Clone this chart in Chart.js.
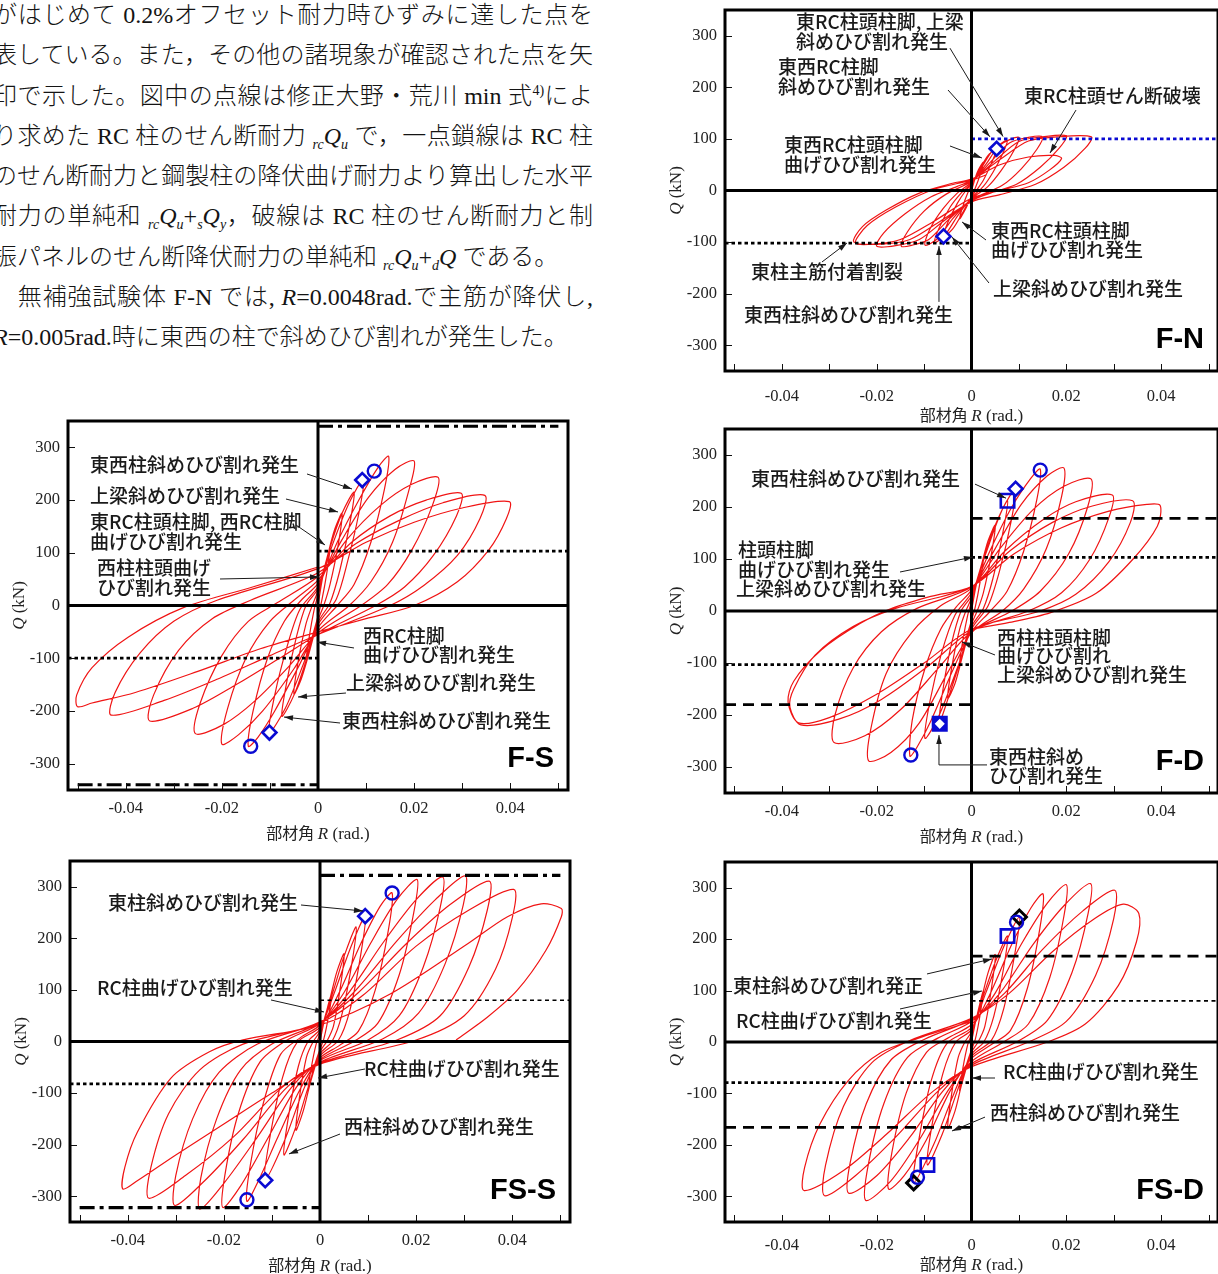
<!DOCTYPE html>
<html lang="ja">
<head>
<meta charset="utf-8">
<title>荷重変形関係</title>
<script src="https://cdn.jsdelivr.net/npm/chart.js@4.4.1/dist/chart.umd.min.js"></script>
<style>
html,body{margin:0;padding:0;background:#fff;width:1218px;height:1274px;overflow:hidden;position:relative}
.para{position:absolute;left:-7px;top:-5px;width:600px;font-family:"Liberation Serif","Noto Sans CJK JP",serif;font-size:24px;font-weight:300;line-height:40.3px;color:#141414}
.para div{white-space:nowrap;height:40.3px;text-align:justify;text-align-last:justify}
.para div.last{text-align-last:left}
.para i{font-style:italic}
.pre,.sb{font-size:14px;font-style:italic;position:relative;top:5px;line-height:0}
.sp{font-size:14px;position:relative;top:-9px;line-height:0}
canvas{position:absolute}
</style>
</head>
<body>
<div class="para">
<div>がはじめて 0.2%オフセット耐力時ひずみに達した点を</div>
<div>表している。また，その他の諸現象が確認された点を矢</div>
<div>印で示した。図中の点線は修正大野・荒川 min 式<span class="sp">4)</span>によ</div>
<div>り求めた RC 柱のせん断耐力 <span class="pre">rc</span><i>Q</i><span class="sb">u</span> で，一点鎖線は RC 柱</div>
<div>のせん断耐力と鋼製柱の降伏曲げ耐力より算出した水平</div>
<div>耐力の単純和 <span class="pre">rc</span><i>Q</i><span class="sb">u</span>+<span class="pre">s</span><i>Q</i><span class="sb">y</span>，破線は RC 柱のせん断耐力と制</div>
<div class="last">振パネルのせん断降伏耐力の単純和 <span class="pre">rc</span><i>Q</i><span class="sb">u</span>+<span class="pre">d</span><i>Q</i> である。</div>
<div>　無補強試験体 F-N では, <i>R</i>=0.0048rad.で主筋が降伏し,</div>
<div class="last"><i>R</i>=0.005rad.時に東西の柱で斜めひび割れが発生した。</div>
</div>
<script>
// ---------- axes ----------
const rTicks = [-0.05, -0.04, -0.03, -0.02, -0.01, 0, 0.01, 0.02, 0.03, 0.04, 0.05];
const rTickLabels = ['', '-0.04', '', '-0.02', '', '0', '', '0.02', '', '0.04', ''];
const qTicks = [-300, -200, -100, 0, 100, 200, 300];
const qTickLabels = ['-300', '-200', '-100', '0', '100', '200', '300'];

// ---------- F-N : story shear Q (kN) vs drift R (rad.) ----------
const fnLoop = [
 [0,0],
 [0.0012,35],[0.0025,55],[0.0018,30],[0.0008,5],[0,-10],[-0.0012,-35],[-0.0025,-55],[-0.0018,-30],[-0.0008,-5],[0,10],
 [0.002,45],[0.0035,68],[0.0053,81],[0.0043,55],[0.0025,20],[0.001,0],[0,-12],[-0.002,-45],[-0.004,-75],[-0.0059,-89],[-0.005,-62],[-0.003,-25],[-0.0012,0],[0,12],
 [0.002,42],[0.0045,78],[0.0075,97],[0.0065,70],[0.0045,35],[0.0025,8],[0,-14],[-0.003,-50],[-0.0055,-85],[-0.0078,-101],[-0.0068,-72],[-0.0045,-32],[-0.0022,-5],[0,14],
 [0.003,50],[0.006,88],[0.01,103],[0.0088,75],[0.0062,38],[0.0035,8],[0,-16],[-0.004,-55],[-0.007,-92],[-0.0098,-106],[-0.0088,-75],[-0.006,-35],[-0.003,-5],[0,16],
 [0.004,55],[0.008,92],[0.012,103],[0.015,104],[0.0138,80],[0.0105,42],[0.0065,10],[0,-18],[-0.005,-58],[-0.009,-95],[-0.0125,-106],[-0.0148,-108],[-0.0135,-80],[-0.01,-40],[-0.0055,-8],[0,18],
 [0.005,58],[0.01,95],[0.015,104],[0.02,106],[0.0185,82],[0.0145,45],[0.0095,12],[0.004,-5],[0,-20],[-0.006,-60],[-0.011,-95],[-0.016,-107],[-0.02,-108],[-0.0185,-82],[-0.014,-45],[-0.0085,-12],[-0.003,8],[0,20],
 [0.006,60],[0.012,96],[0.018,104],[0.0253,104],[0.024,82],[0.0195,45],[0.0135,12],[0.006,-8],[0,-22],[-0.007,-62],[-0.013,-95],[-0.019,-104],[-0.0248,-100],[-0.023,-70],[-0.018,-38],[-0.011,-5],[-0.004,14],[0,22],
 [0.006,50],[0.012,65],[0.0175,68],[0.019,62],[0.0165,40],[0.012,15],[0.006,0],[0,-15],[-0.008,-60],[-0.015,-95],[-0.0205,-104],[-0.0245,-102],[-0.022,-68],[-0.016,-32],[-0.008,2],[0,20],[0.003,30]
];
const fnDiamonds = [[0.0053,81],[-0.0059,-89]];
const fnQu = [100, -102];

// ---------- F-S ----------
const fsLoop = [
 [0,0],
 [0.001,55],[0.0025,110],[0.0018,60],[0.0008,10],[0,-20],[-0.0012,-60],[-0.0025,-105],[-0.0018,-58],[-0.0008,-8],[0,20],
 [0.002,95],[0.0035,145],[0.005,175],[0.0042,115],[0.0025,40],[0.0012,0],[0,-28],[-0.002,-95],[-0.0035,-140],[-0.005,-168],[-0.0042,-110],[-0.0025,-35],[-0.0012,0],[0,28],
 [0.0025,110],[0.005,175],[0.0075,215],[0.0065,150],[0.0045,65],[0.0025,5],[0,-32],[-0.0025,-105],[-0.005,-170],[-0.0075,-210],[-0.0065,-145],[-0.0045,-60],[-0.0025,0],[0,32],
 [0.003,115],[0.0065,195],[0.0095,240],[0.0085,175],[0.0062,85],[0.0038,12],[0,-36],[-0.003,-110],[-0.0068,-195],[-0.0102,-242],[-0.009,-170],[-0.0065,-80],[-0.0038,-8],[0,36],
 [0.004,120],[0.0085,200],[0.0125,262],[0.0147,283],[0.0138,220],[0.011,120],[0.0075,40],[0.004,0],[0,-42],[-0.004,-115],[-0.009,-200],[-0.0125,-250],[-0.0145,-267],[-0.0135,-200],[-0.0105,-100],[-0.007,-30],[-0.0035,10],[0,42],
 [0.005,125],[0.0105,205],[0.016,258],[0.02,274],[0.0188,215],[0.0155,120],[0.011,45],[0.0065,0],[0,-48],[-0.005,-120],[-0.0115,-200],[-0.0165,-245],[-0.02,-263],[-0.0188,-195],[-0.015,-100],[-0.01,-30],[-0.005,10],[0,48],
 [0.006,125],[0.013,190],[0.0195,230],[0.025,243],[0.0238,190],[0.0195,105],[0.0145,40],[0.009,0],[0,-52],[-0.006,-115],[-0.013,-180],[-0.0195,-225],[-0.0255,-243],[-0.0245,-185],[-0.02,-95],[-0.0145,-30],[-0.0085,5],[0,55],
 [0.007,120],[0.015,170],[0.0225,200],[0.0298,213],[0.0288,170],[0.024,95],[0.018,35],[0.012,0],[0,-55],[-0.008,-100],[-0.017,-150],[-0.026,-195],[-0.035,-219],[-0.0342,-170],[-0.029,-85],[-0.022,-25],[-0.014,10],[0,62],
 [0.008,118],[0.017,162],[0.026,195],[0.0347,209],[0.0337,165],[0.029,95],[0.022,38],[0.015,0],[0,-55],[-0.01,-95],[-0.021,-140],[-0.032,-180],[-0.043,-208],[-0.0422,-165],[-0.037,-90],[-0.03,-30],[-0.021,10],[0,70],
 [0.01,120],[0.02,158],[0.03,185],[0.0398,197],[0.0392,165],[0.0355,105],[0.029,45],[0.02,0],[0.01,-25],[0,-50],[-0.012,-82],[-0.025,-125],[-0.038,-165],[-0.047,-185],[-0.05,-192],[-0.0502,-170],[-0.047,-118],[-0.0395,-60],[-0.028,-4],[-0.0136,35],[0,73]
];
const fsDiamonds = [[0.0092,238],[-0.0101,-241]];
const fsCircles = [[0.0117,255],[-0.014,-267]];
const fsQu = [103, -100];
const fsQuSy = [340, -340];

// ---------- F-D ----------
const fdLoop = [
 [0,0],
 [0.001,50],[0.0025,100],[0.0018,55],[0.0008,8],[0,-18],[-0.0012,-55],[-0.0025,-100],[-0.0018,-55],[-0.0008,-8],[0,18],
 [0.002,85],[0.0035,135],[0.005,165],[0.0042,110],[0.0025,35],[0.0012,0],[0,-25],[-0.002,-90],[-0.0035,-140],[-0.005,-168],[-0.0042,-110],[-0.0025,-35],[-0.0012,0],[0,25],
 [0.0025,100],[0.005,165],[0.0076,212],[0.0066,150],[0.0045,62],[0.0025,5],[0,-30],[-0.0025,-100],[-0.005,-170],[-0.0068,-215],[-0.006,-150],[-0.0042,-62],[-0.0022,0],[0,30],
 [0.003,110],[0.0065,195],[0.0093,235],[0.0083,170],[0.006,80],[0.0035,10],[0,-35],[-0.003,-110],[-0.0068,-200],[-0.0098,-245],[-0.0088,-175],[-0.0063,-80],[-0.0035,-8],[0,35],
 [0.004,118],[0.0085,200],[0.0125,255],[0.0145,273],[0.0138,215],[0.011,115],[0.0075,38],[0.004,0],[0,-40],[-0.004,-115],[-0.0085,-210],[-0.0115,-262],[-0.013,-279],[-0.0125,-210],[-0.0098,-110],[-0.0065,-35],[-0.0032,8],[0,40],
 [0.005,120],[0.0105,205],[0.016,260],[0.0195,275],[0.019,220],[0.0158,120],[0.011,42],[0.0065,0],[0,-42],[-0.005,-118],[-0.011,-215],[-0.017,-272],[-0.0217,-288],[-0.0212,-225],[-0.018,-120],[-0.0125,-40],[-0.0065,10],[0,44],
 [0.006,120],[0.013,195],[0.0195,240],[0.0252,254],[0.0245,200],[0.0205,110],[0.0145,38],[0.0085,0],[0,-40],[-0.007,-110],[-0.015,-190],[-0.0225,-240],[-0.029,-253],[-0.0288,-200],[-0.025,-110],[-0.019,-40],[-0.0115,5],[0,46],
 [0.007,115],[0.015,175],[0.022,210],[0.0297,223],[0.029,180],[0.025,100],[0.019,35],[0.012,0],[0,-38],[-0.009,-105],[-0.019,-170],[-0.028,-208],[-0.036,-219],[-0.0383,-185],[-0.0375,-150],[-0.033,-85],[-0.025,-30],[-0.016,5],[0,47],
 [0.008,115],[0.017,170],[0.0255,202],[0.034,212],[0.0335,170],[0.029,95],[0.022,32],[0.0145,0],[0,-35],[-0.01,-100],[-0.02,-160],[-0.03,-205],[-0.0365,-215],[-0.0387,-175],[-0.0375,-135],[-0.0317,-75],[-0.0235,-24],[-0.0168,5],[-0.0086,28],[0,47],
 [0.009,110],[0.019,160],[0.029,192],[0.037,205],[0.0398,203],[0.0392,163],[0.034,99],[0.0263,34],[0.0167,-3],[0.008,-22],[0,-35]
];
const fdCircles = [[0.0145,271],[-0.0128,-277]];
const fdDiamonds = [[0.0093,235]];
const fdSquares = [[0.0076,212]];
const fdFilledSquares = [[-0.0067,-217]];
const fdQu = [103, -103];
const fdQuD = [178, -180];

// ---------- FS-S ----------
const fssLoop = [
 [0,0],
 [0.001,45],[0.0025,95],[0.0018,50],[0.0008,5],[0,-15],[-0.0012,-48],[-0.0025,-95],[-0.0018,-50],[-0.0008,-5],[0,15],
 [0.002,80],[0.0035,135],[0.005,170],[0.0043,110],[0.0028,30],[0.0014,0],[0,-20],[-0.002,-80],[-0.0035,-135],[-0.005,-172],[-0.0043,-110],[-0.0028,-30],[-0.0014,0],[0,20],
 [0.0025,90],[0.005,165],[0.0075,222],[0.0066,150],[0.0045,50],[0.0025,0],[0,-24],[-0.0025,-90],[-0.005,-165],[-0.0075,-220],[-0.0066,-148],[-0.0045,-48],[-0.0025,0],[0,24],
 [0.003,95],[0.0065,185],[0.0094,243],[0.0085,170],[0.0062,60],[0.0038,2],[0,-28],[-0.0035,-95],[-0.0075,-195],[-0.0115,-269],[-0.0105,-190],[-0.0078,-70],[-0.0048,-2],[0,28],
 [0.004,95],[0.0085,190],[0.0125,262],[0.015,288],[0.0142,215],[0.0115,100],[0.008,20],[0.004,-8],[0,-32],[-0.004,-90],[-0.009,-190],[-0.0128,-270],[-0.0152,-310],[-0.0145,-240],[-0.0118,-120],[-0.0082,-25],[-0.004,8],[0,32],
 [0.005,95],[0.0105,190],[0.016,275],[0.0202,314],[0.0195,250],[0.0165,130],[0.012,35],[0.007,0],[0,-35],[-0.005,-90],[-0.011,-190],[-0.0165,-280],[-0.0202,-322],[-0.0198,-260],[-0.017,-140],[-0.0125,-40],[-0.007,2],[0,35],
 [0.006,95],[0.013,190],[0.02,275],[0.0255,319],[0.025,260],[0.0215,145],[0.0165,50],[0.01,3],[0,-37],[-0.006,-90],[-0.013,-185],[-0.02,-275],[-0.025,-325],[-0.0248,-265],[-0.0215,-150],[-0.0165,-55],[-0.01,-5],[0,37],
 [0.007,95],[0.016,195],[0.024,275],[0.0302,321],[0.0298,265],[0.026,150],[0.0205,55],[0.013,5],[0,-40],[-0.007,-90],[-0.016,-190],[-0.024,-270],[-0.0302,-318],[-0.03,-260],[-0.0265,-150],[-0.021,-60],[-0.013,-5],[0,38],
 [0.008,95],[0.018,190],[0.027,265],[0.0352,311],[0.0348,255],[0.031,145],[0.025,50],[0.016,3],[0,-42],[-0.008,-90],[-0.018,-185],[-0.028,-260],[-0.0356,-304],[-0.0352,-245],[-0.0315,-140],[-0.025,-55],[-0.016,-5],[0,36],
 [0.009,90],[0.02,185],[0.031,255],[0.0403,295],[0.04,240],[0.0365,140],[0.03,50],[0.02,3],[0,-44],[-0.01,-100],[-0.02,-160],[-0.03,-220],[-0.038,-270],[-0.041,-286],[-0.0406,-244],[-0.038,-176],[-0.031,-71],[-0.023,-20],[-0.016,3],[0,32],
 [0.0146,92],[0.0308,190],[0.039,242],[0.046,267],[0.0502,258],[0.0502,242],[0.047,177],[0.041,99],[0.0348,47],[0.0283,3]
];
const fssDiamonds = [[0.0094,243],[-0.0114,-269]];
const fssCircles = [[0.015,288],[-0.0152,-307]];
const fssQu = [80, -82];
const fssQuSy = [322, -322];

// ---------- FS-D ----------
const fsdLoop = [
 [0,0],
 [0.001,45],[0.0025,100],[0.0018,52],[0.0008,5],[0,-15],[-0.0012,-48],[-0.0025,-95],[-0.0018,-50],[-0.0008,-5],[0,15],
 [0.002,80],[0.0035,135],[0.005,170],[0.0043,110],[0.0028,30],[0.0014,0],[0,-20],[-0.002,-80],[-0.0035,-135],[-0.005,-168],[-0.0043,-108],[-0.0028,-30],[-0.0014,0],[0,20],
 [0.0025,90],[0.0052,160],[0.0076,206],[0.0067,140],[0.0047,50],[0.0026,0],[0,-24],[-0.003,-95],[-0.0062,-180],[-0.0093,-239],[-0.0084,-165],[-0.006,-60],[-0.0033,0],[0,24],
 [0.003,95],[0.0068,185],[0.0101,243],[0.0092,175],[0.0068,65],[0.0042,3],[0,-28],[-0.0037,-100],[-0.008,-200],[-0.0122,-274],[-0.0112,-195],[-0.0085,-75],[-0.0052,-3],[0,28],
 [0.004,95],[0.0085,190],[0.0125,260],[0.0151,288],[0.0144,220],[0.0118,105],[0.0082,22],[0.0042,-5],[0,-32],[-0.0045,-95],[-0.0095,-190],[-0.0142,-260],[-0.0175,-286],[-0.0168,-215],[-0.0138,-100],[-0.0095,-20],[-0.0045,10],[0,34],
 [0.005,95],[0.0105,190],[0.016,270],[0.02,306],[0.0195,245],[0.0165,125],[0.012,35],[0.0068,0],[0,-38],[-0.005,-95],[-0.011,-190],[-0.017,-270],[-0.0223,-308],[-0.0218,-240],[-0.0185,-120],[-0.0135,-30],[-0.007,8],[0,40],
 [0.006,95],[0.013,190],[0.0195,265],[0.0251,308],[0.0246,250],[0.0212,135],[0.016,42],[0.0095,0],[0,-42],[-0.006,-95],[-0.013,-185],[-0.02,-260],[-0.0259,-294],[-0.0256,-235],[-0.0222,-120],[-0.017,-35],[-0.01,5],[0,44],
 [0.007,95],[0.015,180],[0.0235,255],[0.0302,295],[0.03,240],[0.0262,130],[0.02,40],[0.012,0],[0,-45],[-0.007,-95],[-0.016,-185],[-0.0245,-260],[-0.031,-299],[-0.0308,-240],[-0.027,-125],[-0.021,-40],[-0.013,3],[0,46],
 [0.008,95],[0.017,175],[0.026,240],[0.032,268],[0.0353,250],[0.0348,195],[0.031,110],[0.024,35],[0.016,0],[0,-48],[-0.008,-95],[-0.018,-180],[-0.027,-250],[-0.0353,-289],[-0.0352,-244],[-0.032,-160],[-0.026,-75],[-0.019,-20],[-0.011,8],[0,40]
];
const fsdSquares = [[0.0076,206],[-0.0093,-239]];
const fsdCircles = [[0.0095,233],[-0.0114,-263]];
const fsdBlackDiamonds = [[0.0101,243],[-0.0122,-274]];
const fsdQu = [80, -79];
const fsdQuD = [167, -166];

// ---------- drawing styles ----------
const BLUE = '#0a0ad2';
const RED = '#f01414';
const dotted = {dash: [3.5, 3], width: 2.8, color: '#000'};
const dottedThin = {dash: [4, 3.5], width: 1.6, color: '#000'};
const dashed = {dash: [11, 7], width: 2.8, color: '#000'};
const dashDot = {dash: [15, 5, 4, 5], width: 3.2, color: '#000'};
const dottedBlue = {dash: [3.5, 3], width: 2.8, color: BLUE};

function levelSets(values, styles, reach) {
  return values.map((v, i) => {
    const st = styles[i];
    const pts = v > 0 ? [{x: 0, y: v}, {x: reach, y: v}] : [{x: -reach, y: v}, {x: 0, y: v}];
    return {data: pts, showLine: true, borderColor: st.color, borderWidth: st.width, borderDash: st.dash,
            pointRadius: 0, tension: 0, order: 2};
  });
}
function markSet(points, style, radius, color, fill, width) {
  return {data: points.map(p => ({x: p[0], y: p[1]})), showLine: false, pointStyle: style,
          pointRadius: radius, pointBorderColor: color, pointBackgroundColor: fill,
          pointBorderWidth: width, order: 0};
}
function loopSet(loop) {
  return {data: loop.map(p => ({x: p[0], y: p[1]})), showLine: true, borderColor: RED, borderWidth: 1.2,
          pointRadius: 0, tension: 0.3, order: 3};
}

// ---------- annotation layout (R, Q anchors) ----------
const panels = [
 {name: 'F-N', box: [725, 10, 1218, 371], xPad: 16, titleGap: 50,
  datasets: [
    markSet(fnDiamonds, 'rectRot', 7, BLUE, '#fff', 2.6),
    ...levelSets(fnQu, [dottedBlue, dotted], 0.052),
    loopSet(fnLoop)],
  notes: [
    ['東RC柱頭柱脚, 上梁', -0.0370, 326.7], ['斜めひび割れ発生', -0.0370, 288],
    ['東西RC柱脚', -0.0408, 239.5], ['斜めひび割れ発生', -0.0408, 200.7],
    ['東RC柱頭せん断破壊', 0.01108, 183],
    ['東西RC柱頭柱脚', -0.03956, 88.2], ['曲げひび割れ発生', -0.03956, 49.4],
    ['東西RC柱頭柱脚', 0.00411, -78.5], ['曲げひび割れ発生', 0.00411, -115.4],
    ['上梁斜めひび割れ発生', 0.00454, -191],
    ['東柱主筋付着割裂', -0.04652, -158],
    ['東西柱斜めひび割れ発生', -0.048, -241.4]],
  arrows: [
    [[-0.00454, 276], [0.00665, 104.7]],
    [[-0.00496, 194.9], [0.0039, 104]],
    [[0.02205, 156], [0.01656, 72.7]],
    [[-0.00454, 86.3], [0.0022, 63]],
    [[0.00306, -96], [-0.002, -61]],
    [[0.00369, -179.4], [-0.00411, -90.2]],
    [[-0.03154, -138.6], [-0.02627, -101.8]],
    [[-0.00686, -216], [-0.00686, -107.6]]]},
 {name: 'F-S', box: [68, 421, 568, 790], xPad: 9, titleGap: 49,
  datasets: [
    markSet(fsDiamonds, 'rectRot', 7, BLUE, '#fff', 2.6),
    markSet(fsCircles, 'circle', 6.5, BLUE, 'rgba(255,255,255,0)', 2.4),
    ...levelSets(fsQuSy, [dashDot, dashDot], 0.05),
    ...levelSets(fsQu, [dotted, dotted], 0.052),
    loopSet(fsLoop)],
  notes: [
    ['東西柱斜めひび割れ発生', -0.04742, 266.6],
    ['上梁斜めひび割れ発生', -0.04742, 207.8],
    ['東RC柱頭柱脚, 西RC柱脚', -0.04742, 158.4], ['曲げひび割れ発生', -0.04742, 120.5],
    ['西柱柱頭曲げ', -0.04597, 71.2], ['ひび割れ発生', -0.04597, 33.2],
    ['西RC柱脚', 0.00936, -57.9], ['曲げひび割れ発生', 0.00936, -93.9],
    ['上梁斜めひび割れ発生', 0.00582, -147],
    ['東西柱斜めひび割れ発生', 0.005, -219]],
  arrows: [
    [[-0.00229, 249.5], [0.00707, 221]],
    [[-0.00666, 202], [0.00416, 177.4]],
    [[-0.00458, 152.8], [0.00146, 114.8]],
    [[-0.02038, 50.3], [0.0002, 54.1]],
    [[0.00749, -80.6], [-0.0002, -69.3]],
    [[0.00582, -166], [-0.00416, -173.6]],
    [[0.00458, -222.9], [-0.00707, -211.6]]]},
 {name: 'F-D', box: [725, 429, 1218, 793], xPad: 9, titleGap: 49,
  datasets: [
    markSet(fdFilledSquares, 'rectRot', 4, '#fff', '#fff', 1.5),
    markSet(fdFilledSquares, 'rect', 9.5, BLUE, BLUE, 2.6),
    markSet(fdDiamonds, 'rectRot', 7, BLUE, '#fff', 2.6),
    markSet(fdSquares, 'rect', 9.5, BLUE, 'rgba(255,255,255,0)', 2.6),
    markSet(fdCircles, 'circle', 6.5, BLUE, 'rgba(255,255,255,0)', 2.4),
    ...levelSets(fdQuD, [dashed, dashed], 0.052),
    ...levelSets(fdQu, [dotted, dotted], 0.052),
    loopSet(fdLoop)],
  notes: [
    ['東西柱斜めひび割れ発生', -0.04652, 253.8],
    ['柱頭柱脚', -0.04926, 117.3], ['曲げひび割れ発生', -0.04926, 78.8], ['上梁斜めひび割れ発生', -0.0497, 42.3],
    ['西柱柱頭柱脚', 0.00538, -51.9], ['曲げひび割れ', 0.00538, -86.5], ['上梁斜めひび割れ発生', 0.00538, -123],
    ['東西柱斜め', 0.00369, -280.8], ['ひび割れ発生', 0.00369, -317.3]],
  arrows: [
    [[0.00074, 244], [0.00728, 217]],
    [[-0.01508, 75], [0.0003, 103.8]],
    [[0.00496, -84.6], [-0.002, -59.6]],
    [[0.00327, -296], [-0.00686, -296], [-0.00686, -238.5]]]},
 {name: 'FS-S', box: [70, 861, 570, 1222], xPad: 9, titleGap: 49,
  datasets: [
    markSet(fssDiamonds, 'rectRot', 7, BLUE, '#fff', 2.6),
    markSet(fssCircles, 'circle', 6.5, BLUE, 'rgba(255,255,255,0)', 2.4),
    ...levelSets(fssQuSy, [dashDot, dashDot], 0.05),
    ...levelSets(fssQu, [dottedThin, dotted], 0.052),
    loopSet(fssLoop)],
  notes: [
    ['東柱斜めひび割れ発生', -0.0441, 268.6],
    ['RC柱曲げひび割れ発生', -0.04638, 103.7],
    ['RC柱曲げひび割れ発生', 0.00915, -53.3],
    ['西柱斜めひび割れ発生', 0.005, -165.8]],
  arrows: [
    [[-0.00395, 264.7], [0.00894, 253]],
    [[-0.01019, 80.5], [0.00083, 57.2]],
    [[0.00936, -53.3], [-0.0004, -70.8]],
    [[0.00416, -179.4], [-0.00645, -218]]]},
 {name: 'FS-D', box: [725, 862, 1218, 1222], xPad: 14, titleGap: 48,
  datasets: [
    markSet(fsdCircles, 'circle', 6.5, BLUE, 'rgba(255,255,255,0)', 2.4),
    markSet(fsdBlackDiamonds, 'rectRot', 7, '#000', 'rgba(255,255,255,0)', 3),
    markSet(fsdSquares, 'rect', 9.5, BLUE, 'rgba(255,255,255,0)', 2.6),
    ...levelSets(fsdQuD, [dashed, dashed], 0.052),
    ...levelSets(fsdQu, [dottedThin, dotted], 0.052),
    loopSet(fsdLoop)],
  notes: [
    ['東柱斜めひび割れ発正', -0.05032, 109],
    ['RC柱曲げひび割れ発生', -0.04968, 40.9],
    ['RC柱曲げひび割れ発生', 0.00665, -58.4],
    ['西柱斜めひび割れ発生', 0.0039, -138]],
  arrows: [
    [[-0.00939, 132.3], [0.00432, 161.5]],
    [[-0.01508, 64.2], [0.0022, 99.2]],
    [[0.00496, -70], [0.0001, -70]],
    [[0.00285, -146], [-0.00411, -173]]]}
];

const NOTE_FONT = '500 19px "Noto Sans CJK JP", sans-serif';
const SERIF = '"Liberation Serif", "Times New Roman", serif';

function richText(ctx, parts, cx, cy) {
  let total = 0;
  parts.forEach(p => { ctx.font = p[1]; p.w = ctx.measureText(p[0]).width; total += p.w; });
  let x = cx - total / 2;
  parts.forEach(p => { ctx.font = p[1]; ctx.fillText(p[0], x, cy); x += p.w; });
}

function drawArrow(ctx, pts) {
  ctx.beginPath();
  ctx.moveTo(pts[0][0], pts[0][1]);
  for (let i = 1; i < pts.length; i++) ctx.lineTo(pts[i][0], pts[i][1]);
  ctx.stroke();
  const [x1, y1] = pts[pts.length - 2], [x2, y2] = pts[pts.length - 1];
  const a = Math.atan2(y2 - y1, x2 - x1), L = 9, W = 2.8;
  ctx.beginPath();
  ctx.moveTo(x2, y2);
  ctx.lineTo(x2 - L * Math.cos(a) + W * Math.sin(a), y2 - L * Math.sin(a) - W * Math.cos(a));
  ctx.lineTo(x2 - L * Math.cos(a) - W * Math.sin(a), y2 - L * Math.sin(a) + W * Math.cos(a));
  ctx.closePath();
  ctx.fill();
}

function drawFrame(chart, panel) {
  const {ctx, chartArea: a} = chart;
  const xs = chart.scales.x, ys = chart.scales.y;
  ctx.save();
  // inner tick marks
  ctx.strokeStyle = '#111';
  ctx.lineWidth = 1;
  xs.ticks.forEach(t => {
    const px = Math.round(xs.getPixelForValue(t.value)) + 0.5;
    ctx.beginPath(); ctx.moveTo(px, a.bottom); ctx.lineTo(px, a.bottom - 7); ctx.stroke();
  });
  ys.ticks.forEach(t => {
    const py = Math.round(ys.getPixelForValue(t.value)) + 0.5;
    ctx.beginPath(); ctx.moveTo(a.left, py); ctx.lineTo(a.left + 7, py); ctx.stroke();
  });
  // zero axes and frame
  ctx.strokeStyle = '#000';
  ctx.lineWidth = 3;
  const x0 = xs.getPixelForValue(0), y0 = ys.getPixelForValue(0);
  ctx.beginPath(); ctx.moveTo(x0, a.top); ctx.lineTo(x0, a.bottom); ctx.stroke();
  ctx.beginPath(); ctx.moveTo(a.left, y0); ctx.lineTo(a.right, y0); ctx.stroke();
  ctx.strokeRect(a.left, a.top, a.right - a.left, a.bottom - a.top);
  // notes and arrows
  ctx.fillStyle = '#1a1a1a';
  ctx.strokeStyle = '#1a1a1a';
  ctx.lineWidth = 1;
  panel.arrows.forEach(ar => drawArrow(ctx, ar.map(p => [xs.getPixelForValue(p[0]), ys.getPixelForValue(p[1])])));
  ctx.font = NOTE_FONT;
  ctx.textAlign = 'left';
  ctx.textBaseline = 'middle';
  panel.notes.forEach(n => ctx.fillText(n[0], xs.getPixelForValue(n[1]), ys.getPixelForValue(n[2])));
  // specimen name
  ctx.fillStyle = '#000';
  ctx.font = 'bold 29px "Liberation Sans", Arial, sans-serif';
  ctx.textAlign = 'right';
  ctx.textBaseline = 'alphabetic';
  ctx.fillText(panel.name, a.right - 14, a.bottom - 23);
  // axis titles
  ctx.fillStyle = '#222';
  ctx.textAlign = 'left';
  richText(ctx, [['部材角 ', '16px "Noto Sans CJK JP", sans-serif'], ['R', 'italic 17px ' + SERIF], [' (rad.)', '17px ' + SERIF]],
           x0, a.bottom + panel.titleGap);
  ctx.translate(a.left - 44, y0);
  ctx.rotate(-Math.PI / 2);
  richText(ctx, [['Q', 'italic 17px ' + SERIF], [' (kN)', '17px ' + SERIF]], 0, 0);
  ctx.restore();
}

const PAD = {l: 70, t: 20, r: 20, b: 62};
panels.forEach(panel => {
  const [bl, bt, br, bb] = panel.box;
  const padL = Math.min(PAD.l, bl);
  const W = (br - bl) + padL + PAD.r, H = (bb - bt) + PAD.t + PAD.b;
  const cv = document.createElement('canvas');
  cv.width = W; cv.height = H;
  cv.style.width = W + 'px'; cv.style.height = H + 'px';
  cv.style.left = (bl - padL) + 'px'; cv.style.top = (bt - PAD.t) + 'px';
  document.body.appendChild(cv);
  new Chart(cv, {
    type: 'scatter',
    data: {datasets: panel.datasets},
    options: {
      responsive: false, animation: false, devicePixelRatio: 1,
      layout: {padding: {left: 0, top: PAD.t, right: PAD.r, bottom: 0}},
      plugins: {legend: {display: false}, tooltip: {enabled: false}},
      scales: {
        x: {type: 'linear', min: -0.052, max: 0.052,
            afterBuildTicks: s => { s.ticks = rTicks.map(v => ({value: v})); },
            afterFit: s => { s.height = PAD.b; },
            ticks: {autoSkip: false, maxRotation: 0, padding: panel.xPad, color: '#222',
                    font: {family: SERIF, size: 16.5}, callback: (v, i) => rTickLabels[i]},
            grid: {display: false, drawTicks: false}, border: {display: false}},
        y: {type: 'linear', min: -350, max: 350,
            afterBuildTicks: s => { s.ticks = qTicks.map(v => ({value: v})); },
            afterFit: s => { s.width = padL; },
            ticks: {padding: 8, color: '#222', font: {family: SERIF, size: 16.5},
                    callback: (v, i) => qTickLabels[i]},
            grid: {display: false, drawTicks: false}, border: {display: false}}
      }
    },
    plugins: [{id: 'frame', afterDatasetsDraw(chart) { drawFrame(chart, panel); }}]
  });
});
</script>
</body>
</html>
